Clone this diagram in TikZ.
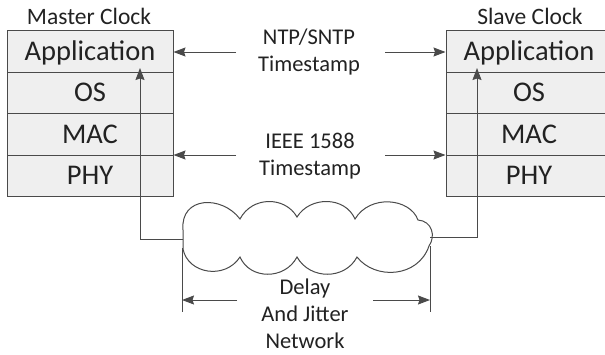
\documentclass[tikz,border=0pt]{standalone}
\usepackage{fontspec}
\setmainfont{Carlito}
\usetikzlibrary{arrows.meta}
\definecolor{linec}{HTML}{4A4A4A}
\definecolor{boxfill}{HTML}{EFEFEF}
\definecolor{txt}{HTML}{222222}
\begin{document}
\begin{tikzpicture}[x=1pt,y=-1pt,
  layer/.style={draw=linec, line width=1pt, fill=boxfill, minimum width=166pt, minimum height=41.5pt, inner sep=0pt, text=txt, text depth=0.2ex, font=\fontsize{28.5}{28.5}\selectfont},
  lbl/.style={text=txt, font=\fontsize{23.5}{23.5}\selectfont, inner sep=0pt},
  mid/.style={text=txt, font=\fontsize{22.5}{27}\selectfont, align=center, inner sep=0pt},
  conn/.style={draw=linec, line width=1pt},
  arr/.style={conn, -{Stealth[length=12pt,width=9pt,inset=1.5pt]}}]
\useasboundingbox (0,0) rectangle (605,354);
\clip (0,0) rectangle (605,354);
\fill[white] (0,0) rectangle (605,354);
% left stack
\node[layer] (lapp) at (90,51.5) {Application};
\node[layer] (los)  at (90,93) {OS};
\node[layer] (lmac) at (90,134.5) {MAC};
\node[layer] (lphy) at (90,176) {PHY};
\node[lbl] (ltitle) at (89,16) {Master Clock};
% right stack
\node[layer] (rapp) at (529,51.5) {Application};
\node[layer] (ros)  at (529,93) {OS};
\node[layer] (rmac) at (529,134.5) {MAC};
\node[layer] (rphy) at (529,176) {PHY};
\node[lbl] (rtitle) at (530,16) {Slave Clock};
% middle labels
\node[mid] (ntp) at (309,52) {NTP/SNTP\\Timestamp};
\node[mid] (ieee) at (310,156) {IEEE 1588\\Timestamp};
\node[mid] (delay) at (305,314) {Delay\\And Jitter\\Network};
% arrows top
\coordinate (ntpL) at (236,52);
\coordinate (ntpR) at (385,52);
\draw[arr] (ntpL) -- (lapp.east |- ntpL);
\draw[arr] (ntpR) -- (rapp.west |- ntpR);
\coordinate (ieL) at (236,155);
\coordinate (ieR) at (385,155);
\draw[arr] (ieL) -- (lmac.south east |- ieL);
\draw[arr] (ieR) -- (rmac.south west |- ieR);
% cloud
\draw[draw=linec, line width=1pt, fill=white]
  (183,230) .. controls (180,196) and (222,195) .. (240,219)
  .. controls (252,196) and (285,196) .. (297,217)
  .. controls (310,196) and (345,196) .. (355,219)
  .. controls (370,194) and (410,198) .. (418,220)
  .. controls (432,221) and (436,236) .. (429,246)
  .. controls (418,278) and (375,280) .. (357,257)
  .. controls (345,280) and (310,280) .. (297,257)
  .. controls (285,280) and (250,280) .. (240,257)
  .. controls (225,280) and (188,274) .. (183,249) -- cycle;
\coordinate (cloudL) at (183,239);
\coordinate (cloudR) at (430,237);
% vertical connectors
\coordinate (lup) at (140,68);
\coordinate (rup) at (477,68);
\draw[arr] (cloudL) -- (lup |- cloudL) -- (lup);
\draw[arr] (cloudR) -- (rup |- cloudR) -- (rup);
% dimension lines
\coordinate (dimL) at (182,300);
\coordinate (dimR) at (430,300);
\draw[conn] (182,248) -- (182,312);
\draw[conn] (430,246) -- (430,312);
\coordinate (dLs) at (237,300);
\coordinate (dRs) at (373,300);
\draw[arr] (dLs) -- (dimL);
\draw[arr] (dRs) -- (dimR);
\end{tikzpicture}
\end{document}
